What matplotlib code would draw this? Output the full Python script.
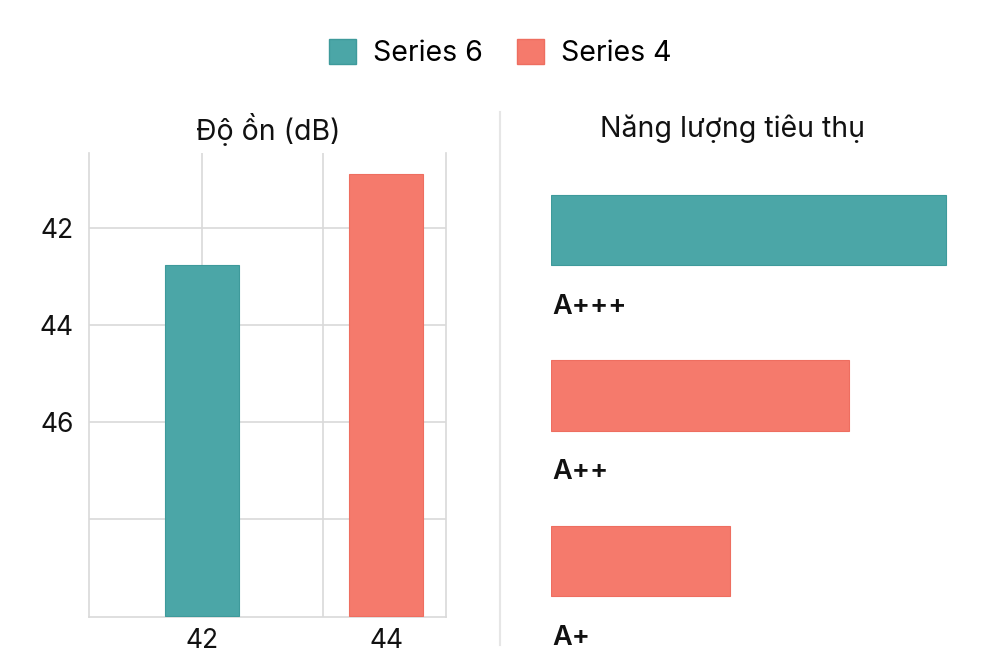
import matplotlib
matplotlib.use("Agg")
import matplotlib.pyplot as plt
from matplotlib.patches import Patch
from matplotlib.lines import Line2D

plt.rcParams['font.family'] = ['Inter', 'DejaVu Sans']

# ---- data ----
series_names = ["Series 6", "Series 4"]
series_colors = ["#4BA6A7", "#F57A6C"]
edge_colors = ["#3E9A9B", "#EE6E60"]

noise_title = "Độ ồn (dB)"
noise_cats = ["42", "44"]
noise_values = [42.76, 40.89]        # Series 6, Series 4
noise_yticks = [42, 44, 46, 48]
noise_yticklabels = ["42", "44", "46", ""]
noise_base = 50

energy_title = "Năng lượng tiêu thụ"
energy_cats = ["A+++", "A++", "A+"]
energy_values = [100, 75.5, 45.3]
energy_series = [0, 1, 1]            # index into series

W, H = 1000, 667
fig = plt.figure(figsize=(W / 100, H / 100), dpi=100)
fig.patch.set_facecolor("white")

def px_axes(x0, y0, x1, y1):
    return fig.add_axes([x0 / W, 1 - y1 / H, (x1 - x0) / W, (y1 - y0) / H])

grid_c = "#D9D9D9"
fs_title = 20.5
fs_tick = 19

# ---- left: noise ----
ax = px_axes(89, 153, 446, 617)
xs = list(range(len(noise_cats)))
for i, v in enumerate(noise_values):
    ax.bar(xs[i], v - noise_base, bottom=noise_base, width=0.40,
           color=series_colors[i], edgecolor=edge_colors[i], linewidth=0.8, zorder=3)
ax.set_ylim(50.02, 40.45)
ax.set_xlim(-0.614, 1.326)
ax.set_yticks(noise_yticks)
ax.set_yticklabels(noise_yticklabels)
ax.set_xticks(xs)
ax.set_xticklabels(noise_cats)
ax.tick_params(axis="both", length=0, labelsize=fs_tick, colors="#111111")
ax.tick_params(axis="y", pad=11)
ax.tick_params(axis="x", pad=8)
ax.grid(axis="y", color=grid_c, linewidth=1.2, zorder=0)
for gx in [0, 0.658]:
    ax.axvline(gx, color=grid_c, linewidth=1.2, zorder=0)
ax.spines["top"].set_visible(False)
for s in ["left", "right", "bottom"]:
    ax.spines[s].set_color(grid_c)
    ax.spines[s].set_linewidth(1.2)
fig.text(268 / W, 1 - 129 / H, noise_title, ha="center", va="center", fontsize=fs_title, color="#111111")

# ---- separator ----
fig.add_artist(Line2D([500 / W, 500 / W], [1 - 112 / H, 1 - 645 / H],
                      color="#E6E6E6", linewidth=1.5))

# ---- right: energy ----
ax2 = px_axes(551, 153, 966, 660)
ys = list(range(len(energy_cats)))
for i, v in enumerate(energy_values):
    si = energy_series[i]
    ax2.barh(ys[i], v, height=0.423, color=series_colors[si],
             edgecolor=edge_colors[si], linewidth=0.8, zorder=3)
    ax2.text(0.3, ys[i] + 0.465, energy_cats[i], ha="left", va="center",
             fontsize=19.5, fontweight="semibold", color="#111111")
ax2.set_xlim(0, 105)
ax2.set_ylim(2.598, -0.465)
ax2.axis("off")
fig.text(733 / W, 1 - 129 / H, energy_title, ha="center", va="center", fontsize=fs_title, color="#111111")

# ---- legend ----
handles = [Patch(facecolor=series_colors[i], edgecolor=edge_colors[i], label=series_names[i])
           for i in range(len(series_names))]
fig.legend(handles=handles, loc="center", bbox_to_anchor=(0.5, 1 - 53 / H), ncol=2,
           frameon=False, fontsize=fs_title, handlelength=0.95, handleheight=0.95,
           handletextpad=0.6, columnspacing=1.2)

fig.savefig("out.png", dpi=100, facecolor="white")
